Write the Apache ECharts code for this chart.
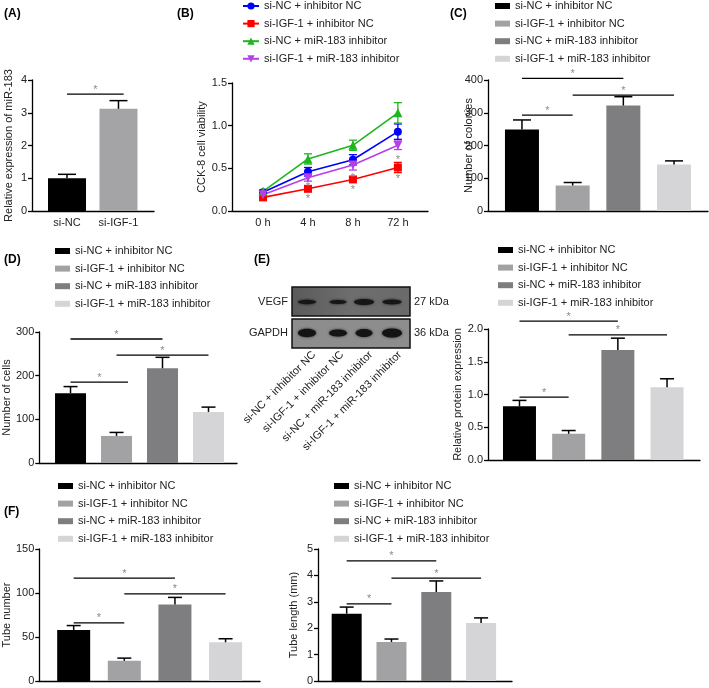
<!DOCTYPE html>
<html><head><meta charset="utf-8">
<script src="https://cdn.jsdelivr.net/npm/echarts@6/dist/echarts.min.js"></script>
<style>html,body{margin:0;padding:0;background:#fff}#c{width:709px;height:688px}</style>
</head><body><div id="c"></div><script>
const FONT = 'Arial, "Liberation Sans", Helvetica, sans-serif';

// ---------- data ----------
const groups = ['si-NC + inhibitor NC', 'si-IGF-1 + inhibitor NC', 'si-NC + miR-183 inhibitor', 'si-IGF-1 + miR-183 inhibitor'];

// (A)
const catsA = ['si-NC', 'si-IGF-1'];
const valsA = [1.0, 3.12];
const sdA = [0.12, 0.25];
const sigA = [[0, 1.1, 3.57]];

// (B)
const timesB = ['0 h', '4 h', '8 h', '72 h'];
const bNC = [0.22, 0.46, 0.60, 0.93];
const bNCsd = [0.02, 0.05, 0.06, 0.09];
const bIGF = [0.16, 0.26, 0.37, 0.51];
const bIGFsd = [0.02, 0.03, 0.03, 0.06];
const bInh = [0.23, 0.61, 0.77, 1.15];
const bInhsd = [0.02, 0.06, 0.06, 0.12];
const bIGFInh = [0.19, 0.39, 0.54, 0.77];
const bIGFInhsd = [0.02, 0.04, 0.06, 0.05];
const starsB = [[1, 0.30], [1, 0.16], [2, 0.41], [2, 0.27], [3, 0.62], [3, 0.40]];

// (C) colonies
const valsC = [249, 78, 322, 142];
const sdC = [29, 9, 27, 11];
const sigC = [[0, 2, 405], [1, 3, 354], [0, 1, 293]];

// (D) cells
const valsD = [160, 62, 217, 117];
const sdD = [15, 8, 25, 11];
const sigD = [[0, 2, 284], [1, 3, 247], [0, 1.25, 185]];

// (E) protein
const valsE = [0.82, 0.40, 1.68, 1.11];
const sdE = [0.09, 0.05, 0.18, 0.13];
const sigE = [[0, 2, 2.12], [1, 3, 1.91], [0, 1, 0.96]];

// (F) tube number / tube length
const valsF1 = [58, 23, 87, 44];
const sdF1 = [5, 3, 8, 4];
const sigF1 = [[0, 2, 117], [1, 3, 99], [0, 1, 66]];
const valsF2 = [2.55, 1.48, 3.37, 2.20];
const sdF2 = [0.25, 0.11, 0.42, 0.19];
const sigF2 = [[0, 2, 4.55], [1, 3, 3.90], [0, 1, 2.92]];

// ---------- styles / layout ----------
const barColors = ['#000000', '#a2a2a5', '#7e7e80', '#d5d5d7'];
const barColorsA = ['#000000', '#a4a4a7'];
const lineColors = ['#0000ff', '#ff0000', '#1fb51f', '#b83fe6'];

const panels = [
  {grid: {left: 32, top: 80, width: 122, height: 131}, x: [-0.68, 1.69], y: [0, 4, 1], name: 'Relative expression of miR-183', gap: 18, dec: 0, move: true},
  {grid: {left: 232, top: 83, width: 196, height: 128}, x: [-0.69, 3.67], y: [0, 1.5, 0.5], name: 'CCK-8 cell viability', gap: 23, dec: 1, move: true},
  {grid: {left: 488, top: 80, width: 220, height: 131}, x: [-0.67, 3.67], y: [0, 400, 100], name: 'Number of colonies', gap: 14, dec: 0, move: false},
  {grid: {left: 39, top: 332, width: 198, height: 131}, x: [-0.68, 3.62], y: [0, 300, 100], name: 'Number of cells', gap: 26, dec: 0, move: true},
  {grid: {left: 488, top: 329, width: 212, height: 131}, x: [-0.64, 3.67], y: [0, 2, 0.5], name: 'Relative protein expression', gap: 25, dec: 1, move: true},
  {grid: {left: 39, top: 549, width: 221, height: 132}, x: [-0.68, 3.68], y: [0, 150, 50], name: 'Tube number', gap: 26, dec: 0, move: true},
  {grid: {left: 318, top: 549, width: 194, height: 132}, x: [-0.64, 3.69], y: [0, 5, 1], name: 'Tube length (mm)', gap: 19, dec: 0, move: true}
];

const axisLineStyle = {color: '#000', width: 1.3};
const grids = [], xAxes = [], yAxes = [];
panels.forEach((p, i) => {
  grids.push(Object.assign({}, p.grid));
  const xa = {
    type: 'value', gridIndex: i, min: p.x[0], max: p.x[1],
    axisLine: {show: true, onZero: false, lineStyle: axisLineStyle},
    axisTick: {show: false}, splitLine: {show: false},
    axisLabel: {show: false}
  };
  if (i === 0) {
    xa.axisLabel = {show: true, customValues: [0, 1], formatter: v => catsA[Math.round(v)], margin: 6,
      color: '#222', fontSize: 11, fontFamily: FONT};
  } else if (i === 1) {
    xa.axisLabel = {show: true, customValues: [0, 1, 2, 3], formatter: v => timesB[Math.round(v)], margin: 6,
      color: '#222', fontSize: 11, fontFamily: FONT};
  }
  xAxes.push(xa);
  yAxes.push({
    type: 'value', gridIndex: i, min: p.y[0], max: p.y[1], interval: p.y[2],
    axisLine: {show: true, onZero: false, lineStyle: axisLineStyle},
    axisTick: {show: true, length: 4, lineStyle: axisLineStyle},
    splitLine: {show: false},
    axisLabel: {color: '#222', fontSize: 11, fontFamily: FONT, margin: 5,
      formatter: v => p.dec ? v.toFixed(p.dec) : String(v)},
    name: p.name, nameLocation: 'middle', nameGap: p.gap, nameMoveOverlap: p.move,
    nameTextStyle: {color: '#222', fontSize: 11, fontFamily: FONT}
  });
});

function errRender(capHalf) {
  return function (params, api) {
    const x = api.value(0);
    const pb = api.coord([x, api.value(1)]);
    const pt = api.coord([x, api.value(2)]);
    const st = {stroke: '#000', lineWidth: 1.5};
    return {type: 'group', children: [
      {type: 'line', shape: {x1: pb[0], y1: pb[1], x2: pt[0], y2: pt[1]}, style: st},
      {type: 'line', shape: {x1: pt[0] - capHalf, y1: pt[1], x2: pt[0] + capHalf, y2: pt[1]}, style: st}
    ]};
  };
}
function errRenderB(color) {
  return function (params, api) {
    const x = api.value(0);
    const pl = api.coord([x, api.value(1)]);
    const ph = api.coord([x, api.value(2)]);
    const st = {stroke: color, lineWidth: 1.3};
    const c = 4;
    return {type: 'group', children: [
      {type: 'line', shape: {x1: pl[0], y1: pl[1], x2: ph[0], y2: ph[1]}, style: st},
      {type: 'line', shape: {x1: ph[0] - c, y1: ph[1], x2: ph[0] + c, y2: ph[1]}, style: st},
      {type: 'line', shape: {x1: pl[0] - c, y1: pl[1], x2: pl[0] + c, y2: pl[1]}, style: st}
    ]};
  };
}
function sigRender(params, api) {
  const y = api.value(2);
  const p1 = api.coord([api.value(0), y]);
  const p2 = api.coord([api.value(1), y]);
  return {type: 'group', children: [
    {type: 'line', shape: {x1: p1[0], y1: p1[1], x2: p2[0], y2: p2[1]}, style: {stroke: '#000', lineWidth: 1.3}},
    {type: 'text', x: (p1[0] + p2[0]) / 2, y: p1[1] + 1,
      style: {text: '*', fill: '#8a8a8a', fontSize: 11, fontFamily: FONT, textAlign: 'center', textVerticalAlign: 'bottom'}}
  ]};
}
function starRender(params, api) {
  const p = api.coord([api.value(0), api.value(1)]);
  return {type: 'text', x: p[0], y: p[1] + 2,
    style: {text: '*', fill: '#8a8a8a', fontSize: 11, fontFamily: FONT, textAlign: 'center', textVerticalAlign: 'middle'}};
}

const series = [];
function barPanel(idx, vals, sds, sigs, names, colors, bw, capHalf) {
  vals.forEach((v, i) => series.push({
    type: 'bar', name: names[i], xAxisIndex: idx, yAxisIndex: idx, barWidth: bw, barGap: '-100%',
    data: [[i, v]], itemStyle: {color: colors[i]}, silent: true
  }));
  series.push({type: 'custom', xAxisIndex: idx, yAxisIndex: idx, z: 3, silent: true,
    data: vals.map((v, i) => [i, v, v + sds[i]]), encode: {x: 0, y: [1, 2]}, renderItem: errRender(capHalf)});
  series.push({type: 'custom', xAxisIndex: idx, yAxisIndex: idx, z: 4, silent: true,
    data: sigs, encode: {x: [0, 1], y: 2}, renderItem: sigRender});
}

// (A)
barPanel(0, valsA, sdA, sigA, catsA, barColorsA, 38, 9);

// (B)
const bSets = [[bNC, bNCsd], [bIGF, bIGFsd], [bInh, bInhsd], [bIGFInh, bIGFInhsd]];
const bSymbols = ['circle', 'rect', 'triangle', 'triangle'];
const bSizes = [8, 8, 9, 9];
const bRot = [0, 0, 0, 180];
bSets.forEach((s, k) => {
  series.push({type: 'custom', xAxisIndex: 1, yAxisIndex: 1, z: 2, silent: true,
    data: s[0].map((v, i) => [i, v - s[1][i], v + s[1][i]]), encode: {x: 0, y: [1, 2]},
    renderItem: errRenderB(lineColors[k])});
});
bSets.forEach((s, k) => {
  series.push({type: 'line', name: 'B: ' + groups[k], xAxisIndex: 1, yAxisIndex: 1, z: 3,
    data: s[0].map((v, i) => [i, v]), symbol: bSymbols[k], symbolSize: bSizes[k], symbolRotate: bRot[k],
    showAllSymbol: true, color: lineColors[k],
    lineStyle: {color: lineColors[k], width: 1.6}, itemStyle: {color: lineColors[k], borderWidth: 0}});
});
series.push({type: 'custom', xAxisIndex: 1, yAxisIndex: 1, z: 4, silent: true,
  data: starsB, encode: {x: 0, y: 1}, renderItem: starRender});

// (C)-(F)
barPanel(2, valsC, sdC, sigC, groups, barColors, 34, 9);
barPanel(3, valsD, sdD, sigD, groups, barColors, 31, 7);
barPanel(4, valsE, sdE, sigE, groups, barColors, 33, 7);
barPanel(5, valsF1, sdF1, sigF1, groups, barColors, 33, 7);
barPanel(6, valsF2, sdF2, sigF2, groups, barColors, 30, 7);

// ---------- legends ----------
const legText = {color: '#222', fontSize: 11, fontFamily: FONT, lineHeight: 12};
function barLegend(left, top) {
  return {orient: 'vertical', left: left, top: top, data: groups, icon: 'rect', itemWidth: 15, itemHeight: 6,
    itemGap: 5.6, itemStyle: {borderWidth: 0}, textStyle: legText, selectedMode: false, padding: 0};
}
const legends = [
  {orient: 'vertical', left: 242, top: 0, data: groups.map(g => 'B: ' + g), formatter: n => n.replace(/^B: /, ''),
    itemWidth: 16, itemHeight: 9, itemGap: 5.6, textStyle: legText, selectedMode: false, padding: 0},
  barLegend(495, 0),
  barLegend(55, 245),
  barLegend(498, 244),
  barLegend(58, 480),
  barLegend(334, 480)
];

// ---------- panel letters and western blot (image part) ----------
const panelLetters = [['(A)', 4, 8], ['(B)', 177, 8], ['(C)', 450, 8], ['(D)', 4, 254], ['(E)', 254, 254], ['(F)', 4, 506]];
const graphics = panelLetters.map(l => ({type: 'text', left: l[1], top: l[2],
  style: {text: l[0], fontSize: 12, fontWeight: 'bold', fill: '#000', fontFamily: FONT}}));

const laneX = [307, 338, 364, 392];
const vegfBand = [[9, 2.2], [8.5, 2.0], [10, 3.0], [9.5, 2.4]];
const gapdhBand = [[9, 4.2], [9, 3.6], [8.5, 4.0], [10, 4.6]];
graphics.push({type: 'rect', shape: {x: 292, y: 287, width: 118, height: 29},
  style: {fill: new echarts.graphic.LinearGradient(0, 0, 1, 0, [{offset: 0, color: '#5a5a5a'}, {offset: 0.5, color: '#6e6e6e'}, {offset: 1, color: '#6a6a6a'}]),
    stroke: '#111', lineWidth: 1.5}});
graphics.push({type: 'rect', shape: {x: 292, y: 319, width: 118, height: 29},
  style: {fill: '#8d8d8d', stroke: '#111', lineWidth: 1.5}});
laneX.forEach((x, i) => {
  graphics.push({type: 'ellipse', shape: {cx: x, cy: 302, rx: vegfBand[i][0], ry: vegfBand[i][1]},
    style: {fill: '#161616', shadowBlur: 3, shadowColor: '#222'}});
  graphics.push({type: 'ellipse', shape: {cx: x, cy: 333, rx: gapdhBand[i][0], ry: gapdhBand[i][1]},
    style: {fill: '#141414', shadowBlur: 3, shadowColor: '#333'}});
});
const blotTexts = [['VEGF', 288, 302, 'right'], ['GAPDH', 288, 333, 'right'], ['27 kDa', 414, 302, 'left'], ['36 kDa', 414, 333, 'left']];
blotTexts.forEach(t => graphics.push({type: 'text', x: t[1], y: t[2],
  style: {text: t[0], fontSize: 11, fill: '#222', fontFamily: FONT, textAlign: t[3], textVerticalAlign: 'middle'}}));
const laneLabelEnd = [[314, 353], [342, 353], [371, 353], [400, 353]];
groups.forEach((g, i) => graphics.push({type: 'text', x: laneLabelEnd[i][0], y: laneLabelEnd[i][1], rotation: Math.PI / 4,
  style: {text: g, fontSize: 11, fill: '#222', fontFamily: FONT, textAlign: 'right', textVerticalAlign: 'middle'}}));

const chart = echarts.init(document.getElementById('c'), null, {renderer: 'canvas'});
chart.setOption({
  animation: false,
  backgroundColor: '#fff',
  textStyle: {fontFamily: FONT},
  grid: grids, xAxis: xAxes, yAxis: yAxes,
  legend: legends,
  series: series,
  graphic: graphics
});
</script></body></html>
